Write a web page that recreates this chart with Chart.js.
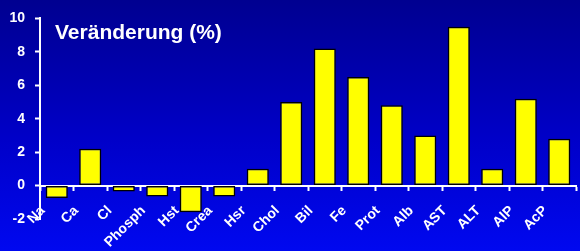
<!DOCTYPE html>
<html lang="de">
<head>
    <meta charset="UTF-8">
    <script src="https://cdn.jsdelivr.net/npm/chart.js"></script>
    <title>Veränderung (%)</title>
    <style>
        html, body { margin: 0; padding: 0; }
        .chart-container {
            width: 580px;
            height: 251px;
            background: linear-gradient(to bottom, #000090 0%, #0000c8 55%, #0008f0 100%);
        }
    </style>
</head>
<body>
<div class="chart-container">
    <canvas id="myChart"></canvas>
</div>

<script>
    // Data
    const labels = ['Na', 'Ca', 'Cl', 'Phosph', 'Hst', 'Crea', 'Hsr', 'Chol',
                    'Bil', 'Fe', 'Prot', 'Alb', 'AST', 'ALT', 'AlP', 'AcP'];
    const change = [-0.75, 2.2, -0.35, -0.65, -1.6, -0.65, 1.0, 5.0,
                    8.2, 6.5, 4.8, 3.0, 9.5, 1.0, 5.2, 2.8];
    const yTicks = [-2, 0, 2, 4, 6, 8, 10];
    const title = 'Veränderung (%)';

    const fontFamily = '"Liberation Sans", Arial, sans-serif';

    // title is drawn inside the plot area
    const titlePlugin = {
        id: 'innerTitle',
        afterDraw(chart) {
            const c = chart.ctx;
            c.save();
            c.fillStyle = '#ffffff';
            c.font = 'bold 21px ' + fontFamily;
            c.textBaseline = 'alphabetic';
            c.fillText(title, chart.chartArea.left + 15, chart.chartArea.top + 21);
            c.restore();
        }
    };

    const ctx = document.getElementById('myChart').getContext('2d');
    const chart = new Chart(ctx, {
        type: 'bar',
        data: {
            labels: labels,
            datasets: [{
                data: change,
                backgroundColor: '#ffff00',
                borderColor: '#000000',
                borderWidth: 1.5,
                borderSkipped: false,
                categoryPercentage: 1,
                barPercentage: 0.66
            }]
        },
        options: {
            responsive: true,
            maintainAspectRatio: false,
            animation: false,
            layout: {
                padding: { top: 15, right: 4, bottom: 32, left: 0 }
            },
            plugins: {
                legend: { display: false },
                tooltip: { enabled: false }
            },
            scales: {
                x: {
                    position: { y: 0 },
                    // rotated labels should not push the plot edges in
                    afterFit: (scale) => {
                        scale.paddingLeft = 0;
                        scale.paddingRight = 0;
                    },
                    grid: {
                        offset: true,
                        drawOnChartArea: false,
                        drawTicks: true,
                        tickLength: 4,
                        tickWidth: 2,
                        color: '#ffffff'
                    },
                    border: { color: '#ffffff', width: 2 },
                    ticks: {
                        color: '#ffffff',
                        font: { family: fontFamily, size: 14, weight: 'bold' },
                        minRotation: 45,
                        maxRotation: 45,
                        autoSkip: false,
                        padding: 13,
                        labelOffset: -14
                    }
                },
                y: {
                    min: -2,
                    max: 10,
                    afterFit: (scale) => { scale.width = 40; },
                    afterBuildTicks: (scale) => {
                        scale.ticks = yTicks.map(v => ({ value: v }));
                    },
                    grid: {
                        drawOnChartArea: false,
                        drawTicks: true,
                        tickLength: 5,
                        tickWidth: 2,
                        color: '#ffffff'
                    },
                    border: { color: '#ffffff', width: 2 },
                    ticks: {
                        color: '#ffffff',
                        font: { family: fontFamily, size: 14, weight: 'bold' },
                        padding: 10
                    }
                }
            }
        },
        plugins: [titlePlugin]
    });
</script>
</body>
</html>
